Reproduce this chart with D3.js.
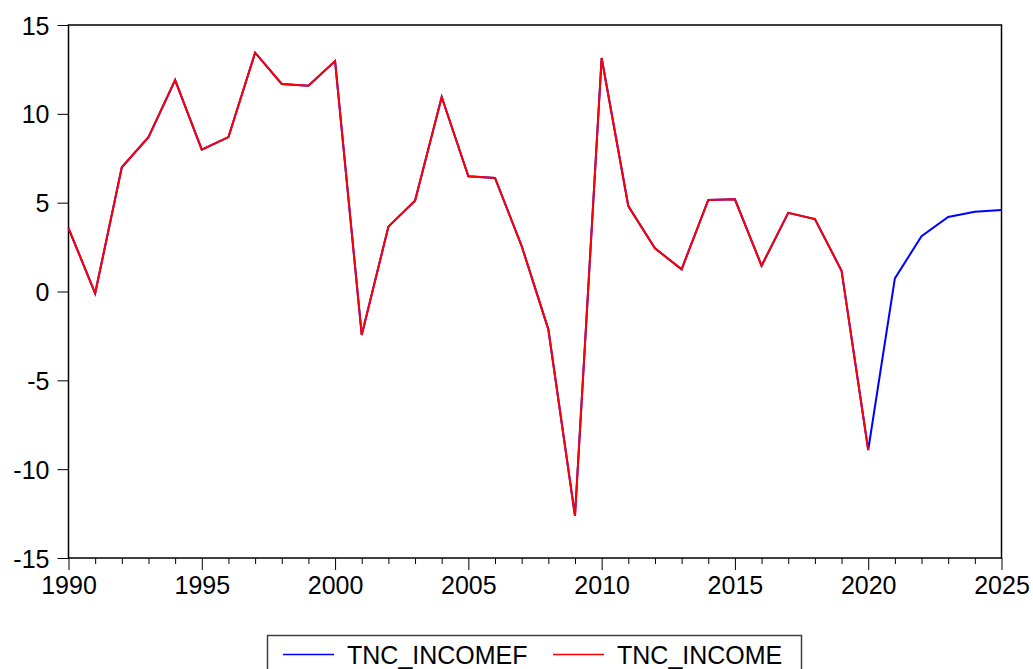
<!DOCTYPE html>
<html>
<head>
<meta charset="utf-8">
<script src="https://cdn.jsdelivr.net/npm/d3@7"></script>
<style>
  body { margin: 0; background: #fff; overflow: hidden; }
  text { font-family: "Liberation Sans", Arial, sans-serif; fill: #000; }
</style>
</head>
<body>
<div class="chart"></div>
<script>
// years 1990..2025
const years = d3.range(1990, 2026);

// TNC_INCOME, actuals 1990-2020
const income = [3.56, -0.1, 6.99, 8.68, 11.9, 7.98, 8.69, 13.44, 11.68, 11.58,
  12.97, -2.45, 3.65, 5.11, 10.95, 6.48, 6.39, 2.56, -2.13, -12.63,
  13.14, 4.81, 2.43, 1.25, 5.15, 5.19, 1.45, 4.43, 4.08, 1.17, -8.92];

// TNC_INCOMEF, forecast continuing to 2025
const forecastTail = [0.74, 3.11, 4.19, 4.49, 4.59];
const incomeF = income.concat(forecastTail);

const yTicks = [-15, -10, -5, 0, 5, 10, 15];
const xTicks = [1990, 1995, 2000, 2005, 2010, 2015, 2020, 2025];

const seriesNames = ["TNC_INCOMEF", "TNC_INCOME"];
const seriesColors = ["#0000ff", "#ff0000"];

const width = 1033, height = 669;
const plotL = 68.5, plotR = 1001.5, plotT = 25, plotB = 558;
const fontSize = 25;

let svg = d3.select(".chart").append("svg")
  .attr("width", width)
  .attr("height", height);

let x = d3.scaleLinear().domain([1990, 2025]).range([plotL, plotR]);
let y = d3.scaleLinear().domain([-15, 15]).range([plotB, plotT]);

// frame
svg.append("rect")
  .attr("x", plotL).attr("y", plotT)
  .attr("width", plotR - plotL).attr("height", plotB - plotT)
  .attr("fill", "none")
  .attr("stroke", "#000")
  .attr("stroke-width", 1.5);

// y axis (plain hyphen for negatives, like the original)
let yAxis = svg.append("g")
  .attr("transform", "translate(" + plotL + ",0)")
  .call(d3.axisLeft(y).tickValues(yTicks).tickSize(11).tickPadding(8)
    .tickFormat(function(d) { return String(d); }));
yAxis.select(".domain").remove();
yAxis.selectAll(".tick line").attr("stroke", "#000").attr("stroke-width", 1);
yAxis.selectAll(".tick text")
  .attr("font-size", fontSize)
  .attr("font-family", "'Liberation Sans', Arial, sans-serif")
  .attr("dy", "0.36em");

// x minor ticks
svg.append("g")
  .attr("transform", "translate(0," + plotB + ")")
  .call(d3.axisBottom(x).tickValues(years.filter(d => d % 5 != 0)).tickSize(6).tickFormat(""))
  .call(g => g.select(".domain").remove())
  .selectAll(".tick line").attr("stroke", "#000");

// x major ticks
let xAxis = svg.append("g")
  .attr("transform", "translate(0," + plotB + ")")
  .call(d3.axisBottom(x).tickValues(xTicks).tickSize(12).tickPadding(6)
    .tickFormat(function(d) { return String(d); }));
xAxis.select(".domain").remove();
xAxis.selectAll(".tick line").attr("stroke", "#000");
xAxis.selectAll(".tick text")
  .attr("font-size", fontSize)
  .attr("font-family", "'Liberation Sans', Arial, sans-serif");

let line = d3.line()
  .x(function(d, i) { return x(years[i]); })
  .y(function(d) { return y(d); });

svg.append("path")
  .datum(incomeF)
  .attr("d", line)
  .attr("fill", "none")
  .attr("stroke", seriesColors[0])
  .attr("stroke-width", 2)
  .attr("stroke-linejoin", "miter");

svg.append("path")
  .datum(income)
  .attr("d", line)
  .attr("fill", "none")
  .attr("stroke", seriesColors[1])
  .attr("stroke-width", 2)
  .attr("stroke-linejoin", "miter");

// legend
let legend = svg.append("g");
legend.append("rect")
  .attr("x", 267.5).attr("y", 635.5)
  .attr("width", 534).attr("height", 45)
  .attr("fill", "#fff")
  .attr("stroke", "#404040")
  .attr("stroke-width", 1.5);

let items = [{x: 283, tx: 347}, {x: 553, tx: 617}];
items.forEach(function(it, i) {
  legend.append("line")
    .attr("x1", it.x).attr("x2", it.x + 51)
    .attr("y1", 654.5).attr("y2", 654.5)
    .attr("stroke", seriesColors[i])
    .attr("stroke-width", 1.5);
  legend.append("text")
    .attr("x", it.tx).attr("y", 664)
    .attr("font-size", fontSize)
    .text(seriesNames[i]);
});
</script>
</body>
</html>
